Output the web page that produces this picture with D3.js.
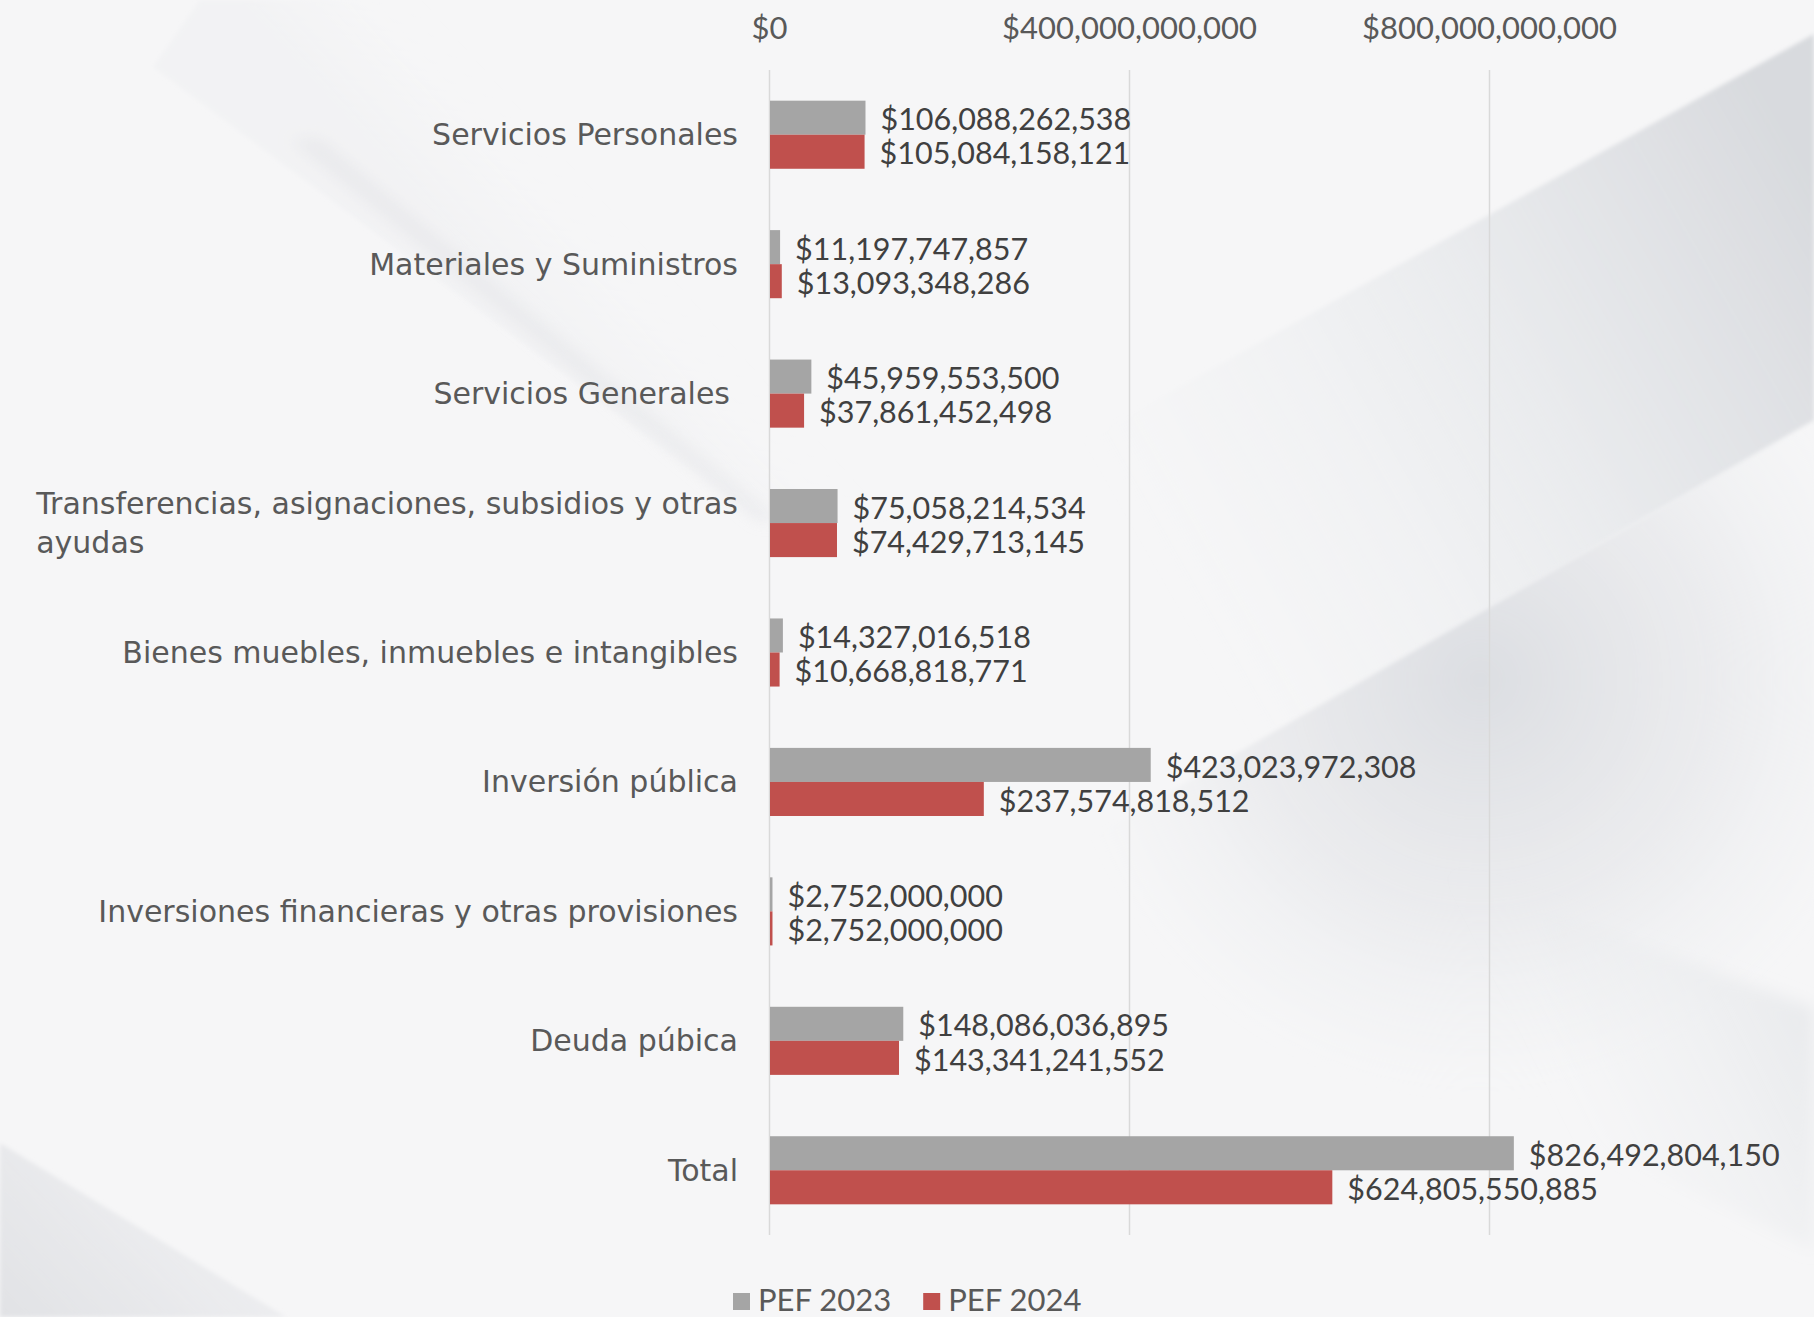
<!DOCTYPE html>
<html>
<head>
<meta charset="utf-8">
<script src="https://cdn.jsdelivr.net/npm/d3@7"></script>
<style>
  html, body { margin: 0; padding: 0; background: #f6f6f7; }
  svg { display: block; }
</style>
</head>
<body>
<svg id="chart" width="1814" height="1317"></svg>
<script>
// ---- data ----
const categories = [
  "Servicios Personales",
  "Materiales y Suministros",
  "Servicios Generales",
  "Transferencias, asignaciones, subsidios y otras ayudas",
  "Bienes muebles, inmuebles e intangibles",
  "Inversión pública",
  "Inversiones financieras y otras provisiones",
  "Deuda púbica",
  "Total"
];
const seriesNames = ["PEF 2023", "PEF 2024"];
const pef2023 = [106088262538, 11197747857, 45959553500, 75058214534, 14327016518, 423023972308, 2752000000, 148086036895, 826492804150];
const pef2024 = [105084158121, 13093348286, 37861452498, 74429713145, 10668818771, 237574818512, 2752000000, 143341241552, 624805550885];
const tickValues = [0, 400000000000, 800000000000];
const seriesColors = ["#a5a5a5", "#c0504d"];

const W = 1814, H = 1317;
const numFont = "Lato, \"Open Sans\", sans-serif";
const catFont = "\"DejaVu Sans\", Verdana, sans-serif";
const svg = d3.select("#chart");

// ---- background ----
const defs = svg.append("defs");
function lg(id, x1, y1, x2, y2, stops) {
  const g = defs.append("linearGradient").attr("id", id)
    .attr("gradientUnits", "userSpaceOnUse")
    .attr("x1", x1).attr("y1", y1).attr("x2", x2).attr("y2", y2);
  stops.forEach(s => g.append("stop").attr("offset", s[0]).attr("stop-color", s[1]).attr("stop-opacity", s[2]));
}
function rg(id, cx, cy, r, stops) {
  const g = defs.append("radialGradient").attr("id", id)
    .attr("gradientUnits", "userSpaceOnUse")
    .attr("cx", cx).attr("cy", cy).attr("r", r);
  stops.forEach(s => g.append("stop").attr("offset", s[0]).attr("stop-color", s[1]).attr("stop-opacity", s[2]));
}
const soft = defs.append("filter").attr("id", "soft").attr("x", "-20%").attr("y", "-20%").attr("width", "140%").attr("height", "140%");
soft.append("feGaussianBlur").attr("stdDeviation", 2);
const soft6 = defs.append("filter").attr("id", "soft6").attr("x", "-20%").attr("y", "-20%").attr("width", "140%").attr("height", "140%");
soft6.append("feGaussianBlur").attr("stdDeviation", 8);

const bg = svg.append("g");
bg.append("rect").attr("width", W).attr("height", H).attr("fill", "#f6f6f7");
// upper-right band below the top diagonal edge
lg("gR1", 1814, 180, 1150, 560, [[0, "#d8dade", 1], [0.4, "#e4e6e9", 0.8], [1, "#eef0f2", 0]]);
bg.append("polygon").attr("points", "1000,487 1814,34 1814,420 1000,890").attr("fill", "url(#gR1)").attr("filter", "url(#soft)");
// darker wedge below the second edge, fading downward
rg("gR2", 1480, 680, 420, [[0, "#dcdee2", 1], [0.55, "#e6e7ea", 0.7], [1, "#eef0f2", 0]]);
bg.append("polygon").attr("points", "1000,890 1814,420 1814,1150 1000,1150").attr("fill", "url(#gR2)").attr("filter", "url(#soft)");
// right lower gray
lg("gR3", 1814, 950, 1550, 1080, [[0, "#e3e5e8", 0.8], [1, "#eceef0", 0]]);
bg.append("polygon").attr("points", "1363,840 1814,1008 1814,1250 1500,1100").attr("fill", "url(#gR3)").attr("filter", "url(#soft6)");
// bottom-left gray triangle
lg("gL1", 0, 1317, 160, 1150, [[0, "#e1e2e5", 1], [1, "#e8e9ec", 0.6]]);
bg.append("polygon").attr("points", "0,1143 286,1317 0,1317").attr("fill", "url(#gL1)").attr("filter", "url(#soft)");
// soft diagonal shadow top-left
bg.append("polygon").attr("points", "290,139 760,520 775,520 320,139").attr("fill", "#e2e3e6").attr("opacity", 0.7).attr("filter", "url(#soft6)");
lg("gL2", 520, 310, 620, 220, [[0, "#eaebee", 0.35], [1, "#f6f6f7", 0]]);
bg.append("polygon").attr("points", "153,67 760,520 900,520 900,0 200,0").attr("fill", "url(#gL2)").attr("filter", "url(#soft)");

// ---- scales ----
const plotTop = 70, plotBottom = 1235;
const x = d3.scaleLinear().domain([0, 1000000000000]).range([769, 1669]);
const y = d3.scaleBand().domain(categories).range([plotTop, plotBottom]).paddingInner(0.474).paddingOuter(0.237);
const ySub = d3.scaleBand().domain(seriesNames).range([0, y.bandwidth()]);

// ---- gridlines ----
svg.append("g").selectAll("line").data(tickValues).join("line")
  .attr("x1", d => Math.round(x(d)) + 0.5).attr("x2", d => Math.round(x(d)) + 0.5)
  .attr("y1", plotTop).attr("y2", plotBottom)
  .attr("stroke", "#d9d9d9").attr("stroke-width", 1.5);

// ---- top axis ----
const fmt = d3.format("$,.0f");
const axis = d3.axisTop(x).tickValues(tickValues).tickFormat(fmt).tickSize(0).tickPadding(0);
const axG = svg.append("g").attr("transform", "translate(0,28)").call(axis);
axG.select(".domain").remove();
axG.selectAll("text")
  .attr("font-size", 31).attr("fill", "#595959")
  .attr("dy", "0.35em").attr("font-family", numFont);

// ---- bars ----
const rows = categories.map((c, i) => ({ cat: c, vals: [pef2023[i], pef2024[i]] }));
const grp = svg.append("g").selectAll("g").data(rows).join("g")
  .attr("transform", d => `translate(0,${y(d.cat)})`);
grp.selectAll("rect").data(d => d.vals.map((v, j) => ({ v, j }))).join("rect")
  .attr("x", x(0) + 1)
  .attr("y", d => ySub(seriesNames[d.j]))
  .attr("width", d => Math.max(1.5, x(d.v) - x(0)))
  .attr("height", ySub.bandwidth())
  .attr("fill", d => seriesColors[d.j]);
grp.selectAll("text.val").data(d => d.vals.map((v, j) => ({ v, j }))).join("text")
  .attr("class", "val")
  .attr("x", d => x(d.v) + 16)
  .attr("y", d => ySub(seriesNames[d.j]) + ySub.bandwidth() / 2 + 2)
  .attr("dy", "0.35em")
  .attr("font-family", numFont)
  .attr("font-size", 30.5).attr("fill", "#404040")
  .text(d => fmt(d.v));

// ---- category labels ----
const labelX = 738;
const catG = svg.append("g").attr("font-family", catFont).attr("font-size", 30).attr("fill", "#595959");
categories.forEach((c, i) => {
  const cy = y(c) + y.bandwidth() / 2;
  if (c.startsWith("Transferencias")) {
    const l1 = "Transferencias, asignaciones, subsidios y otras";
    const l2 = "ayudas";
    const t1 = catG.append("text").attr("x", labelX).attr("y", cy - 20).attr("dy", "0.35em")
      .attr("text-anchor", "end").text(l1);
    const w = t1.node().getComputedTextLength();
    catG.append("text").attr("x", labelX - w).attr("y", cy + 19).attr("dy", "0.35em").text(l2);
  } else {
    catG.append("text").attr("x", c === "Servicios Generales" ? labelX - 8 : labelX).attr("y", cy).attr("dy", "0.35em")
      .attr("text-anchor", "end").text(c);
  }
});

// ---- legend ----
const leg = svg.append("g").attr("transform", "translate(733,1300)");
let lx = 0;
seriesNames.forEach((s, j) => {
  leg.append("rect").attr("x", lx).attr("y", -7).attr("width", 17).attr("height", 17).attr("fill", seriesColors[j]);
  const t = leg.append("text").attr("x", lx + 25).attr("y", 0).attr("dy", "0.35em")
    .attr("font-family", numFont).attr("font-size", 31).attr("fill", "#595959").text(s);
  lx += 25 + t.node().getComputedTextLength() + 32;
});
</script>
</body>
</html>
